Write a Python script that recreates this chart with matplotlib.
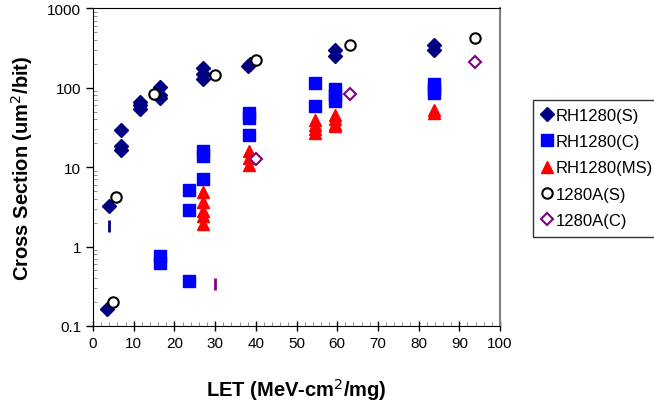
import numpy as np
import matplotlib
matplotlib.use("Agg")
import matplotlib.pyplot as plt
from matplotlib.ticker import LogLocator, FixedLocator, NullFormatter, FuncFormatter

plt.rcParams['font.family'] = ['Liberation Sans', 'DejaVu Sans']

# RH1280(S)
s_x = [3.4, 3.9, 7, 7, 7, 11.5, 11.5, 11.5, 16.5, 16.5, 16.5, 27, 27, 27, 38, 38.5, 59.4, 59.4, 83.7, 83.7]
s_y = [0.165, 3.2, 29.5, 18.5, 16.5, 67, 60, 54, 102, 80, 75, 178, 151, 130, 190, 200, 295, 250, 345, 300]
# RH1280(C)
c_x = [16.5, 16.5, 23.6, 23.6, 23.6, 27, 27, 27, 38.3, 38.3, 38.3, 54.6, 54.6, 59.4, 59.4, 59.4, 83.7, 83.7, 83.7]
c_y = [0.75, 0.62, 0.37, 5.2, 2.9, 7.1, 16, 14, 48, 42, 25.5, 115, 59, 95, 80, 68, 110, 95, 85]
# RH1280(MS)
ms_x = [27, 27, 27, 27, 27, 38.3, 38.3, 38.3, 54.6, 54.6, 54.6, 54.6, 59.4, 59.4, 59.4, 59.4, 83.7, 83.7]
ms_y = [4.9, 3.6, 2.8, 2.4, 1.95, 16, 13, 10.5, 39, 34, 30, 27, 46, 40, 35, 33, 53, 48]
# 1280A(S)
as_x = [4.9, 5.7, 14.9, 29.9, 40, 63.1, 93.8]
as_y = [0.20, 4.2, 84, 146, 221, 343, 424]
# 1280A(C)
ac_x = [40.1, 63.1, 93.8]
ac_y = [12.5, 84, 211]
# stray tick marks
s_bar_x, s_bar_y = [3.9], [1.84]
ac_bar_x, ac_bar_y = [30.0], [0.34]

fig = plt.figure(figsize=(6.54, 4.06), dpi=100)
ax = fig.add_axes([93/654, 1-327/406, 407/654, (327-9.3)/406])

ax.plot(s_x, s_y, 'D', color='#000080', ms=7, mec='#000080', label='RH1280(S)', ls='none')
ax.plot(c_x, c_y, 's', color='#0000FF', ms=8.5, mec='#0000FF', label='RH1280(C)', ls='none')
ax.plot(ms_x, ms_y, '^', color='#FF0000', ms=9, mec='#FF0000', label='RH1280(MS)', ls='none')
ax.plot(as_x, as_y, 'o', mfc='white', mec='black', mew=1.5, ms=7.5, label='1280A(S)', ls='none')
ax.plot(ac_x, ac_y, 'D', mfc='white', mec='#800080', mew=1.5, ms=6.5, label='1280A(C)', ls='none')
ax.plot(s_bar_x, s_bar_y, '|', color='#000080', ms=8, mew=2, ls='none')
ax.plot(ac_bar_x, ac_bar_y, '|', color='#800080', ms=9, mew=2, ls='none')

ax.set_yscale('log')
ax.set_xlim(0, 100)
ax.set_ylim(0.1, 1000)
ax.set_xticks(np.arange(0, 101, 10))
ax.xaxis.set_minor_locator(FixedLocator(np.arange(0, 101, 2)))
ax.yaxis.set_major_locator(LogLocator(base=10, numticks=10))
ax.yaxis.set_minor_locator(LogLocator(base=10, subs=np.arange(2, 10), numticks=20))
ax.yaxis.set_minor_formatter(NullFormatter())
ax.yaxis.set_major_formatter(FuncFormatter(lambda v, p: ('%g' % v)))

ax.tick_params(axis='both', which='major', labelsize=11, color='black', width=1)
ax.tick_params(axis='x', which='major', direction='inout', length=7)
ax.tick_params(axis='y', which='major', direction='out', length=5)
ax.tick_params(axis='both', which='minor', direction='in', length=3, color='#808080')

ax.spines['right'].set_color('#808080')
ax.spines['right'].set_linewidth(1.5)

ax.set_xlabel('LET (MeV-cm$^{2}$/mg)', fontsize=14.5, fontweight='bold', labelpad=19)
ax.set_ylabel('Cross Section (um$^{2}$/bit)', fontsize=14.5, fontweight='bold', labelpad=9)

leg = fig.legend(loc='upper left', bbox_to_anchor=(533/654, 1-100.5/406), borderaxespad=0,
                 fontsize=12, frameon=True, fancybox=False, handlelength=0.7,
                 handletextpad=0.15, labelspacing=0.68, borderpad=0.5)
leg.get_frame().set_edgecolor('black')
leg.get_frame().set_linewidth(1)

fig.savefig('out.png', dpi=100)
